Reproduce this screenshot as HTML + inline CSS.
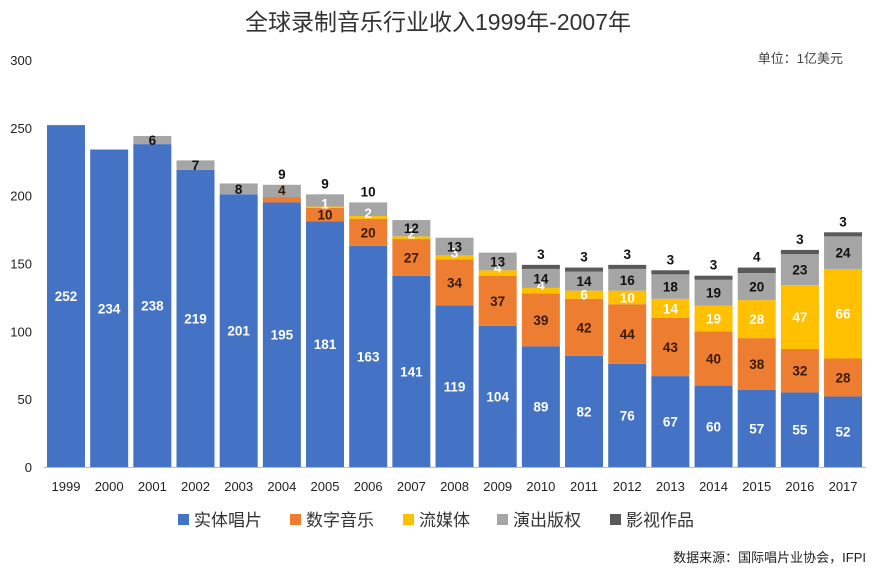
<!DOCTYPE html>
<html><head><meta charset="utf-8"><style>
body{margin:0;background:#fff;font-family:"Liberation Sans","Noto Sans CJK SC",sans-serif}
</style></head><body>
<svg id="c" width="877" height="573" xmlns="http://www.w3.org/2000/svg"></svg>
<script>
const years=["1999","2000","2001","2002","2003","2004","2005","2006","2007","2008","2009","2010","2011","2012","2013","2014","2015","2016","2017"];
const physical=[252,234,238,219,201,195,181,163,141,119,104,89,82,76,67,60,57,55,52];
const digital=[0,0,0,0,0,4,10,20,27,34,37,39,42,44,43,40,38,32,28];
const streaming=[0,0,0,0,0,0,1,2,2,3,4,4,6,10,14,19,28,47,66];
const performance=[0,0,6,7,8,9,9,10,12,13,13,14,14,16,18,19,20,23,24];
const sync=[0,0,0,0,0,0,0,0,0,0,0,3,3,3,3,3,4,3,3];
const yTicks=[0,50,100,150,200,250,300];
const seriesNames=["实体唱片","数字音乐","流媒体","演出版权","影视作品"];
const colors=["#4472C4","#ED7D31","#FFC000","#A5A5A5","#595959"];
const labelColors=["#fff","#3a1a00","#fff","#111","#111"];
const series=[physical,digital,streaming,performance,sync];
const svg=document.getElementById('c');const NS="http://www.w3.org/2000/svg";
function el(t,a,p){const e=document.createElementNS(NS,t);for(const k in a)e.setAttribute(k,a[k]);(p||svg).appendChild(e);return e;}
const y0=467,y1=60;
function Y(v){return y0-(v/300)*(y0-y1);}
function X(i){return 66+i*43.17;}
const bw=38;
let t=el('text',{x:438,y:30,'text-anchor':'middle','font-size':23,fill:'#333'});t.textContent="全球录制音乐行业收入1999年-2007年";

t=el('text',{x:843,y:63,'text-anchor':'end','font-size':13,fill:'#444'});t.textContent="单位：1亿美元";

yTicks.forEach(v=>{const tt=el('text',{x:32,y:Y(v)+5,'text-anchor':'end','font-size':13,fill:'#222'});tt.textContent=v;
});
el('line',{x1:44,x2:866,y1:y0+0.5,y2:y0+0.5,stroke:'#bbb'});
const barLayer=el('g',{});const labelLayer=el('g',{});
years.forEach((yr,i)=>{let base=0;
 series.forEach((s,k)=>{const v=s[i];if(!v)return;
  const r=el('rect',{x:X(i)-bw/2,y:Y(base+v),width:bw,height:Y(base)-Y(base+v),fill:colors[k]},barLayer);
  
  const l=el('text',{x:X(i),'text-anchor':'middle','font-size':13.5,'font-weight':'bold',fill:labelColors[k]},labelLayer);
  let ly=(Y(base)+Y(base+v))/2+5;
  if(k==4||(k==3&&digital[i]>0&&v<=10&&!sync[i]))ly=Y(base+v)-6;
  if(k==2&&v<5)ly=Y(base+v)+2;
  if(k==1&&v<5)ly=Y(base+v)-2;
  l.setAttribute('y',ly);
  l.textContent=v;
  base+=v;});
 const xl=el('text',{x:X(i),y:491,'text-anchor':'middle','font-size':13,fill:'#222'});xl.textContent=yr;
 
});
const lx=[178,290,403,497,610];
seriesNames.forEach((n,k)=>{const g=el('g',{});
 el('rect',{x:lx[k],y:514,width:11,height:11,fill:colors[k]},g);
 const tt=el('text',{x:lx[k]+16,y:526,'font-size':17,fill:'#333'},g);tt.textContent=n;});
t=el('text',{x:866,y:562,'text-anchor':'end','font-size':13,fill:'#222'});t.textContent="数据来源：国际唱片业协会，IFPI";

</script></body></html>
